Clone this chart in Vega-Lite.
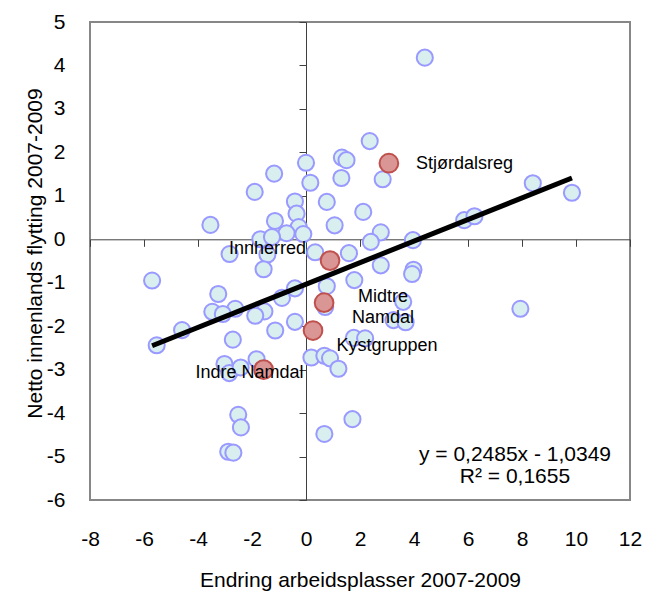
{
  "$schema": "https://vega.github.io/schema/vega-lite/v6.json",
  "width": 540,
  "height": 478,
  "autosize": {"type": "none"},
  "padding": {"left": 90, "top": 22, "right": 16, "bottom": 93},
  "background": "white",
  "config": {
    "view": {"stroke": "#878787", "strokeWidth": 2},
    "font": "Liberation Sans",
    "axis": {"labelFont": "Liberation Sans", "titleFont": "Liberation Sans", "labelColor": "black", "titleColor": "black", "grid": false, "titleFontWeight": "normal"}
  },
  "datasets": {
    "points": [
      {"x": 4.40, "y": 4.18, "name": null},
      {"x": 2.36, "y": 2.26, "name": null},
      {"x": 1.33, "y": 1.88, "name": null},
      {"x": 1.50, "y": 1.82, "name": null},
      {"x": 0.00, "y": 1.76, "name": null},
      {"x": -1.18, "y": 1.51, "name": null},
      {"x": 0.16, "y": 1.30, "name": null},
      {"x": 1.31, "y": 1.41, "name": null},
      {"x": 2.84, "y": 1.38, "name": null},
      {"x": -1.90, "y": 1.09, "name": null},
      {"x": 8.40, "y": 1.29, "name": null},
      {"x": 9.85, "y": 1.07, "name": null},
      {"x": -0.41, "y": 0.87, "name": null},
      {"x": 0.77, "y": 0.86, "name": null},
      {"x": -0.35, "y": 0.59, "name": null},
      {"x": 2.12, "y": 0.63, "name": null},
      {"x": -3.54, "y": 0.33, "name": null},
      {"x": -1.15, "y": 0.42, "name": null},
      {"x": 1.06, "y": 0.32, "name": null},
      {"x": -0.27, "y": 0.28, "name": null},
      {"x": -0.72, "y": 0.14, "name": null},
      {"x": -0.10, "y": 0.12, "name": null},
      {"x": 5.86, "y": 0.44, "name": null},
      {"x": 6.24, "y": 0.53, "name": null},
      {"x": 2.77, "y": 0.16, "name": null},
      {"x": 2.40, "y": -0.06, "name": null},
      {"x": 3.96, "y": -0.02, "name": null},
      {"x": -1.69, "y": 0.00, "name": null},
      {"x": -1.26, "y": 0.05, "name": null},
      {"x": 0.34, "y": -0.30, "name": null},
      {"x": 1.59, "y": -0.32, "name": null},
      {"x": -2.83, "y": -0.34, "name": null},
      {"x": -1.43, "y": -0.35, "name": null},
      {"x": -1.57, "y": -0.69, "name": null},
      {"x": 2.77, "y": -0.60, "name": null},
      {"x": 3.98, "y": -0.70, "name": null},
      {"x": 3.93, "y": -0.80, "name": null},
      {"x": -5.70, "y": -0.95, "name": null},
      {"x": 1.79, "y": -0.94, "name": null},
      {"x": -0.41, "y": -1.13, "name": null},
      {"x": 0.77, "y": -1.08, "name": null},
      {"x": -3.25, "y": -1.26, "name": null},
      {"x": -0.89, "y": -1.35, "name": null},
      {"x": 0.71, "y": -1.56, "name": null},
      {"x": 3.60, "y": -1.44, "name": null},
      {"x": -2.62, "y": -1.60, "name": null},
      {"x": -3.47, "y": -1.67, "name": null},
      {"x": -3.08, "y": -1.72, "name": null},
      {"x": -1.54, "y": -1.66, "name": null},
      {"x": -1.88, "y": -1.76, "name": null},
      {"x": 7.94, "y": -1.60, "name": null},
      {"x": 3.24, "y": -1.86, "name": null},
      {"x": 3.69, "y": -1.91, "name": null},
      {"x": -0.41, "y": -1.90, "name": null},
      {"x": -4.59, "y": -2.09, "name": null},
      {"x": -1.14, "y": -2.10, "name": null},
      {"x": 1.77, "y": -2.27, "name": null},
      {"x": 2.19, "y": -2.28, "name": null},
      {"x": -2.71, "y": -2.31, "name": null},
      {"x": -5.53, "y": -2.44, "name": null},
      {"x": 0.20, "y": -2.72, "name": null},
      {"x": 0.68, "y": -2.68, "name": null},
      {"x": 0.89, "y": -2.74, "name": null},
      {"x": 1.20, "y": -2.98, "name": null},
      {"x": -3.02, "y": -2.87, "name": null},
      {"x": -2.84, "y": -3.08, "name": null},
      {"x": -2.42, "y": -2.95, "name": null},
      {"x": -1.83, "y": -2.76, "name": null},
      {"x": -2.51, "y": -4.04, "name": null},
      {"x": -2.41, "y": -4.33, "name": null},
      {"x": -2.88, "y": -4.89, "name": null},
      {"x": -2.69, "y": -4.91, "name": null},
      {"x": 0.68, "y": -4.48, "name": null},
      {"x": 1.72, "y": -4.14, "name": null},
      {"x": 3.07, "y": 1.75, "name": "Stjørdalsreg"},
      {"x": 0.89, "y": -0.49, "name": "Innherred"},
      {"x": 0.67, "y": -1.46, "name": "Midtre Namdal"},
      {"x": 0.26, "y": -2.10, "name": "Kystgruppen"},
      {"x": -1.57, "y": -3.00, "name": "Indre Namdal"}
    ],
    "trend": [
      {"x": -5.70, "y": -2.45},
      {"x": 9.85, "y": 1.41}
    ],
    "equation": [
      {"eq": "y = 0,2485x - 1,0349\nR² = 0,1655"}
    ]
  },
  "data": {"name": "points"},
  "resolve": {"axis": {"x": "independent", "y": "independent"}},
  "layer": [
    {
      "transform": [{"filter": "datum.name == null"}],
      "mark": {"type": "point", "shape": "circle", "filled": true, "size": 260, "fill": "#D8EEEF", "stroke": "#9999FF", "strokeWidth": 2, "opacity": 1},
      "encoding": {
        "x": {"field": "x", "type": "quantitative",
          "scale": {"domain": [-8, 12], "nice": false, "zero": false},
          "axis": {"orient": "bottom", "values": [-8, -6, -4, -2, 0, 2, 4, 6, 8, 10, 12], "domain": false, "ticks": false, "labelFontSize": 21, "labelPadding": 39, "labelBaseline": "middle", "labelFlush": false, "labelOverlap": false, "labelBound": false,
            "labelExpr": "datum.value < 0 ? '-' + abs(datum.value) : '' + datum.value",
            "title": "Endring arbeidsplasser 2007-2009", "titleFontSize": 21, "titleY": 80, "titleBaseline": "middle"}},
        "y": {"field": "y", "type": "quantitative",
          "scale": {"domain": [-6, 5], "nice": false, "zero": false},
          "axis": {"orient": "left", "values": [-6, -5, -4, -3, -2, -1, 0, 1, 2, 3, 4, 5], "domain": false, "ticks": false, "labelFontSize": 21, "labelPadding": 25, "labelBaseline": "middle", "labelFlush": false, "labelOverlap": false, "labelBound": false,
            "labelExpr": "datum.value < 0 ? '-' + abs(datum.value) : '' + datum.value",
            "title": "Netto innenlands flytting 2007-2009", "titleFontSize": 21, "titleX": -55, "titleY": 231, "titleBaseline": "middle"}}
      }
    },
    {
      "transform": [{"filter": "datum.name != null"}],
      "mark": {"type": "point", "shape": "circle", "filled": true, "size": 350, "fill": "#D99694", "stroke": "#C0504D", "strokeWidth": 2, "opacity": 1},
      "encoding": {
        "x": {"field": "x", "type": "quantitative",
          "axis": {"orient": "bottom", "values": [-8, -6, -4, -2, 0, 2, 4, 6, 8, 10, 12], "offset": -260.7, "domain": true, "domainColor": "#404040", "domainWidth": 1, "ticks": true, "tickColor": "#404040", "tickSize": 7, "tickWidth": 1, "labels": false, "title": null}},
        "y": {"field": "y", "type": "quantitative",
          "axis": {"orient": "left", "values": [-6, -5, -4, -3, -2, -1, 0, 1, 2, 3, 4, 5], "offset": -216, "domain": true, "domainColor": "#404040", "domainWidth": 1, "ticks": true, "tickColor": "#404040", "tickSize": 7, "tickWidth": 1, "labels": false, "title": null}}
      }
    },
    {
      "data": {"name": "trend"},
      "mark": {"type": "line", "color": "black", "strokeWidth": 5, "strokeCap": "butt"},
      "encoding": {
        "x": {"field": "x", "type": "quantitative", "axis": null},
        "y": {"field": "y", "type": "quantitative", "axis": null}
      }
    },
    {
      "transform": [{"filter": "datum.name == 'Stjørdalsreg'"}],
      "mark": {"type": "text", "align": "left", "baseline": "middle", "dx": 27, "dy": 1, "fontSize": 18, "font": "Liberation Sans", "color": "black"},
      "encoding": {
        "x": {"field": "x", "type": "quantitative", "axis": null},
        "y": {"field": "y", "type": "quantitative", "axis": null},
        "text": {"field": "name"}
      }
    },
    {
      "transform": [{"filter": "datum.name == 'Innherred'"}],
      "mark": {"type": "text", "align": "right", "baseline": "middle", "dx": -24, "dy": -12, "fontSize": 18, "font": "Liberation Sans", "color": "black"},
      "encoding": {
        "x": {"field": "x", "type": "quantitative", "axis": null},
        "y": {"field": "y", "type": "quantitative", "axis": null},
        "text": {"field": "name"}
      }
    },
    {
      "transform": [{"filter": "datum.name == 'Midtre Namdal'"}],
      "mark": {"type": "text", "align": "center", "baseline": "middle", "dx": 59, "dy": -6, "fontSize": 18, "lineHeight": 21, "lineBreak": " ", "font": "Liberation Sans", "color": "black"},
      "encoding": {
        "x": {"field": "x", "type": "quantitative", "axis": null},
        "y": {"field": "y", "type": "quantitative", "axis": null},
        "text": {"field": "name"}
      }
    },
    {
      "transform": [{"filter": "datum.name == 'Kystgruppen'"}],
      "mark": {"type": "text", "align": "center", "baseline": "middle", "dx": 74, "dy": 15, "fontSize": 18, "font": "Liberation Sans", "color": "black"},
      "encoding": {
        "x": {"field": "x", "type": "quantitative", "axis": null},
        "y": {"field": "y", "type": "quantitative", "axis": null},
        "text": {"field": "name"}
      }
    },
    {
      "transform": [{"filter": "datum.name == 'Indre Namdal'"}],
      "mark": {"type": "text", "align": "right", "baseline": "middle", "dx": 40, "dy": 3, "fontSize": 18, "font": "Liberation Sans", "color": "black"},
      "encoding": {
        "x": {"field": "x", "type": "quantitative", "axis": null},
        "y": {"field": "y", "type": "quantitative", "axis": null},
        "text": {"field": "name"}
      }
    },
    {
      "data": {"name": "equation"},
      "mark": {"type": "text", "align": "center", "baseline": "middle", "fontSize": 21, "lineHeight": 22, "lineBreak": "\n", "font": "Liberation Sans", "color": "black"},
      "encoding": {
        "x": {"datum": 7.74, "type": "quantitative", "axis": null},
        "y": {"datum": -4.96, "type": "quantitative", "axis": null},
        "text": {"field": "eq"}
      }
    }
  ]
}
